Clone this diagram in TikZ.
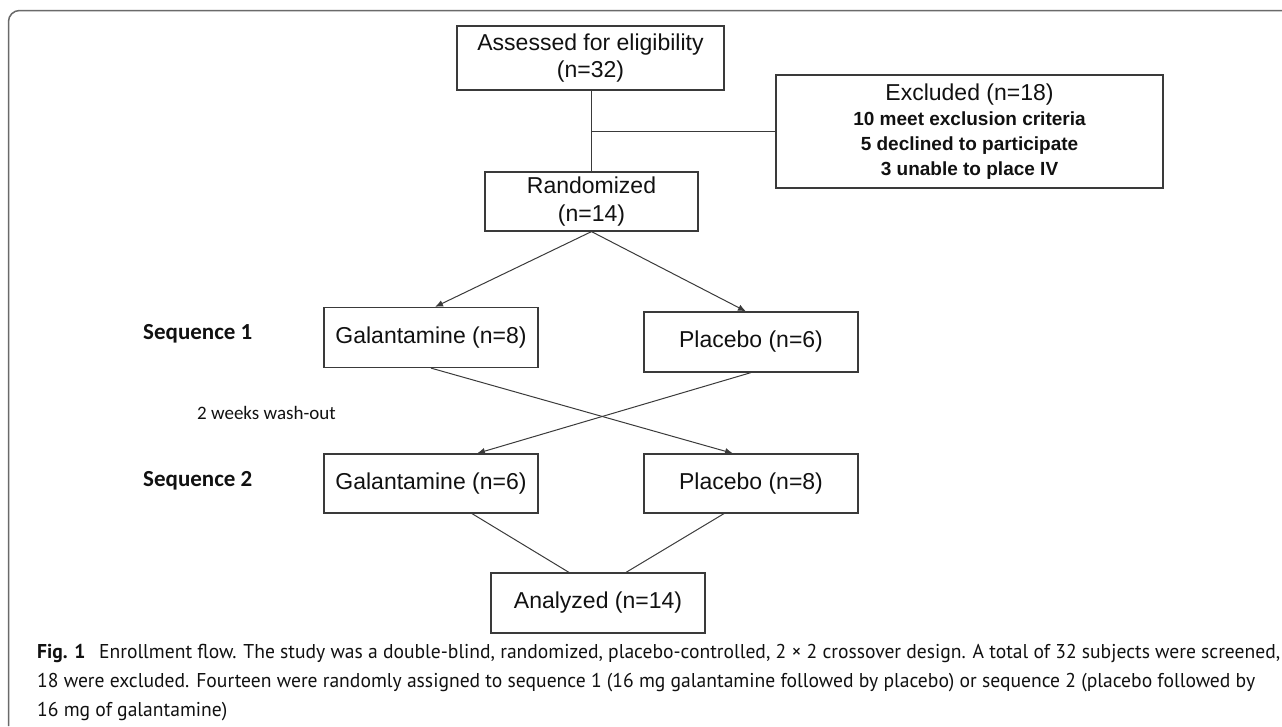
\documentclass[tikz,border=0pt]{standalone}
\usepackage{fontspec}
\setmainfont{Liberation Sans}
\newfontfamily\seqfont{Carlito}
\newfontfamily\capfont{PT Sans}
\usetikzlibrary{arrows.meta,calc}
\definecolor{framec}{HTML}{6A6A6A}
\definecolor{boxc}{HTML}{3A3A3A}
\definecolor{wirec}{HTML}{3A3A3A}
\definecolor{txtc}{HTML}{111111}
\newsavebox\capbox
\newcommand\capstyle{\capfont\fontsize{20}{24}\selectfont}
\newcommand\capfit[2]{\sbox\capbox{\capstyle #2}\pgfmathsetmacro\capsc{#1/\wd\capbox}\xdef\lastcapsc{\capsc}\scalebox{\capsc}[1]{\usebox\capbox}}
\newcommand\capsame[1]{\sbox\capbox{\capstyle #1}\scalebox{\lastcapsc}[1]{\usebox\capbox}}
\begin{document}
\begin{tikzpicture}[x=1pt,y=-1pt,
  box/.style={draw=boxc, line width=1.2pt, inner sep=0pt, align=center, text=txtc,
    font=\fontsize{23}{27.5}\selectfont},
  wire/.style={draw=wirec, line width=1pt},
  arr/.style={wire, -{Latex[length=8pt,width=6.5pt]}},
  seqlabel/.style={anchor=west, inner sep=0pt, text=txtc, font=\seqfont\bfseries\fontsize{23}{27}\selectfont},
  washlabel/.style={anchor=west, inner sep=0pt, text=txtc, font=\seqfont\fontsize{19}{23}\selectfont},
  capline/.style={anchor=base west, inner sep=0pt, text=txtc}
]
\useasboundingbox (0,0) rectangle (1282,726);
% frame
\draw[framec, line width=1.5pt, rounded corners=11pt] (8.5,726) -- (8.5,10.5) -- (1282,10.5);

% boxes
\node[box, minimum width=267pt, minimum height=64pt] (assess) at (590.5,58) {Assessed for eligibility\\(n=32)};
\node[box, minimum width=387pt, minimum height=113pt,
      font=\bfseries\fontsize{19}{25}\selectfont] (excl) at (969.5,131.5)
  {{\mdseries\fontsize{23}{26}\selectfont Excluded (n=18)}\\10 meet exclusion criteria\\5 declined to participate\\3 unable to place IV};
\node[box, minimum width=213pt, minimum height=59pt] (rand) at (591.5,201.5) {Randomized\\(n=14)};
\node[box, minimum width=214pt, minimum height=60pt] (g8) at (431,337.5) {Galantamine (n=8)};
\node[box, minimum width=214pt, minimum height=60pt] (p6) at (751,342) {Placebo (n=6)};
\node[box, minimum width=214pt, minimum height=59pt] (g6) at (431,483.5) {Galantamine (n=6)};
\node[box, minimum width=214pt, minimum height=59pt] (p8) at (751,483.5) {Placebo (n=8)};
\node[box, minimum width=214pt, minimum height=60pt] (anal) at (598,603) {Analyzed (n=14)};

% labels
\node[seqlabel] (seq1) at (143,334) {Sequence 1};
\node[washlabel] (wash) at (197,413) {2 weeks wash-out};
\node[seqlabel] (seq2) at (143,481) {Sequence 2};

% connectors
\draw[wire] (assess.south -| rand.north) -- (rand.north);
\draw[wire] (excl.west) -- (excl.west -| rand.north);
\draw[arr] (rand.south) -- ($(g8.north)+(4,0)$);
\draw[arr] (rand.south) -- ($(p6.north)+(-5,0)$);
\draw[arr] (g8.south) -- ($(p8.north)+(-18,0)$);
\draw[arr] (p6.south) -- ($(g6.north)+(46,0)$);
\draw[wire] ($(g6.south)+(41,0)$) -- ($(anal.north)+(-29,0)$);
\draw[wire] ($(p8.south)+(-27,0)$) -- ($(anal.north)+(28,0)$);

% caption
\node[capline] (cap1) at (37,658) {\capfit{1243}{\textbf{Fig. 1}\hspace{0.7em}Enrollment flow. The study was a double-blind, randomized, placebo-controlled, 2 × 2 crossover design. A total of 32 subjects were screened,}};
\node[capline] (cap2) at (37,687) {\capfit{1218}{18 were excluded. Fourteen were randomly assigned to sequence 1 (16 mg galantamine followed by placebo) or sequence 2 (placebo followed by}};
\node[capline] (cap3) at (37,716) {\capsame{16 mg of galantamine)}};
\end{tikzpicture}
\end{document}
